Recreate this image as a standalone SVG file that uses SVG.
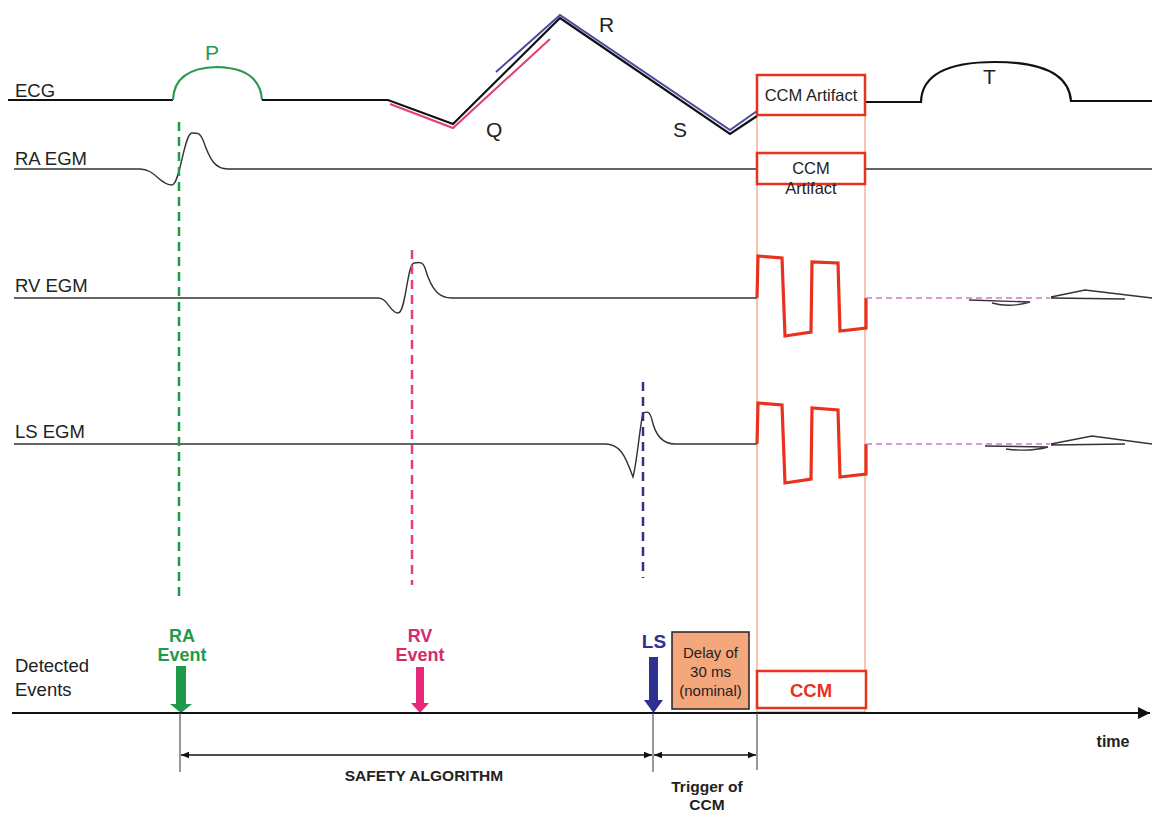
<svg xmlns="http://www.w3.org/2000/svg" width="1152" height="815" viewBox="0 0 1152 815">
<defs>
<style>
.lbl{font-family:"Liberation Sans",Arial,sans-serif;font-size:18.5px;fill:#222}
.b{font-weight:bold}
.wv{font-size:21px}
.sig{fill:none;stroke:#333;stroke-width:1.4}
.ecg{fill:none;stroke:#111;stroke-width:2.2}
.sq{fill:none;stroke:#e8321e;stroke-width:3.2;stroke-linejoin:miter}
.box{fill:#fff;stroke:#e8321e;stroke-width:2.5}
.dpk{fill:none;stroke:#c97bc9;stroke-width:1.5;stroke-dasharray:6 4}
.ax{stroke:#111;stroke-width:2}
.thin{stroke:#555;stroke-width:1.2}
</style>
<marker id="ah" viewBox="0 0 10 10" refX="10" refY="5" markerWidth="8" markerHeight="8" orient="auto-start-reverse" markerUnits="userSpaceOnUse"><path d="M0,1 L10,5 L0,9 Z" fill="#111"/></marker>
<marker id="axh" viewBox="0 0 10 10" refX="10" refY="5" markerWidth="12" markerHeight="12" orient="auto" markerUnits="userSpaceOnUse"><path d="M0,0 L10,5 L0,10 Z" fill="#111"/></marker>
</defs>
<rect width="1152" height="815" fill="#fff"/>

<!-- CCM window frame -->
<rect x="757" y="75" width="108" height="637" fill="none" stroke="#f0a080" stroke-width="1.2"/>

<g id="ecg">
<text class="lbl" x="15" y="97">ECG</text>
<path class="ecg" d="M8,100 L173,100"/>
<path d="M173,100 Q174,68 217,67 Q260,68 262,100" fill="none" stroke="#2a9a50" stroke-width="2.2"/>
<path class="ecg" d="M262,100 L388,100 L453,124 L560,18 L730,134 L757,116"/>
<path d="M390,104 L453,128 L550,39" fill="none" stroke="#e0406a" stroke-width="2"/>
<path d="M496,72 L560,15 L730,130 L757,111" fill="none" stroke="#4a4aa0" stroke-width="2"/>
<path class="ecg" d="M862,102 L921,102 Q922,62 995,62 Q1068,62 1071,101 L1152,101"/>
<text class="lbl wv" x="205" y="60" style="fill:#2a9a50">P</text>
<text class="lbl wv" x="599" y="32">R</text>
<text class="lbl wv" x="486" y="137">Q</text>
<text class="lbl wv" x="673" y="137">S</text>
<text class="lbl wv" x="983" y="84">T</text>
</g>

<g id="ra-egm">
<text class="lbl" x="15" y="165">RA EGM</text>
<path class="sig" d="M14,169 L140,169 C155,169 160,185 172,185 C180,185 184,133 192,133 C200,133 200,134 203,140 C210,160 215,169 228,169 L757,169"/>
<path class="sig" d="M865,169 L1152,169"/>
</g>

<g id="rv-egm">
<text class="lbl" x="15" y="292">RV EGM</text>
<path class="sig" d="M14,298 L378,298 C388,298 390,313 398,313 C406,313 407,264 414,263 C420,262 423,262 425,268 C432,292 440,298 452,298 L757,298"/>
<path class="sq" d="M757,298 L758,256 L782,258 L785,336 L811,332 L812,262 L838,263 L840,331 L866,328 L866,298"/>
<path class="dpk" d="M866,298 L1050,298"/>
<path class="sig" d="M969,300 L1030,302 Q1010,308 992,303"/>
<path class="sig" d="M1051,297 L1085,290 L1152,298 M1051,298 L1125,299"/>
</g>

<g id="ls-egm">
<text class="lbl" x="15" y="438">LS EGM</text>
<path class="sig" d="M14,444 L605,444 C620,444 625,455 633,477 C637,462 640,425 643,413 C648,411 650,412 652,420 C656,438 664,444 675,444 L757,444"/>
<path class="sq" d="M757,444 L758,403 L782,405 L785,483 L811,479 L812,408 L838,410 L840,477 L866,474 L866,444"/>
<path class="dpk" d="M866,444 L1050,444"/>
<path class="sig" d="M985,446 L1048,447 Q1030,452 1006,449"/>
<path class="sig" d="M1051,444 L1092,436 L1152,444 M1051,445 L1125,444"/>
</g>

<g id="artifact1">
<rect class="box" x="757" y="75" width="108" height="40"/>
<text class="lbl" x="811" y="101" text-anchor="middle" style="font-size:16.5px">CCM Artifact</text>
</g>
<g id="artifact2">
<rect class="box" x="757" y="153" width="108" height="31"/>
<text class="lbl" x="811" y="174" text-anchor="middle" style="font-size:16.5px">CCM</text>
<text class="lbl" x="811" y="194" text-anchor="middle" style="font-size:16.5px">Artifact</text>
</g>

<g id="event-lines">
<line x1="179" y1="122" x2="179" y2="600" stroke="#1f9a4a" stroke-width="2.5" stroke-dasharray="9 6"/>
<line x1="412" y1="250" x2="412" y2="585" stroke="#e84070" stroke-width="2.5" stroke-dasharray="9 6"/>
<line x1="643" y1="382" x2="643" y2="578" stroke="#2e3192" stroke-width="2.5" stroke-dasharray="9 6"/>
</g>

<g id="detected">
<text class="lbl" x="15" y="672">Detected</text>
<text class="lbl" x="15" y="696">Events</text>
</g>

<g id="ra-event">
<text class="lbl b" x="182" y="642" text-anchor="middle" style="fill:#1f9a4a;font-size:18px">RA</text>
<text class="lbl b" x="182" y="661" text-anchor="middle" style="fill:#1f9a4a;font-size:18px">Event</text>
<path d="M176,666 L186,666 L186,704 L192,704 L181,713 L170,704 L176,704 Z" fill="#1f9a4a"/>
</g>
<g id="rv-event">
<text class="lbl b" x="420" y="642" text-anchor="middle" style="fill:#d42a6e;font-size:18px">RV</text>
<text class="lbl b" x="420" y="661" text-anchor="middle" style="fill:#d42a6e;font-size:18px">Event</text>
<path d="M416,667 L424,667 L424,703 L429,703 L420,713 L411,703 L416,703 Z" fill="#e8287a"/>
</g>
<g id="ls-event">
<text class="lbl b" x="654" y="648" text-anchor="middle" style="fill:#2e3192;font-size:19px">LS</text>
<path d="M649,657 L658,657 L658,700 L663,700 L653.5,713 L644,700 L649,700 Z" fill="#2e3192"/>
</g>

<g id="delay">
<rect x="672" y="632" width="77" height="77" fill="#f5a77c" stroke="#222" stroke-width="1.5"/>
<text class="lbl" x="710.5" y="658" text-anchor="middle" style="font-size:15px">Delay of</text>
<text class="lbl" x="710.5" y="677" text-anchor="middle" style="font-size:15px">30 ms</text>
<text class="lbl" x="710.5" y="696" text-anchor="middle" style="font-size:15px">(nominal)</text>
</g>

<g id="ccm">
<rect class="box" x="757" y="671" width="109" height="37"/>
<text class="lbl b" x="811" y="697" text-anchor="middle" style="fill:#e8321e;font-size:18.5px">CCM</text>
</g>

<g id="connectors">
<line class="ax" x1="12" y1="713" x2="1150" y2="713" marker-end="url(#axh)"/>
<line class="thin" x1="180" y1="713" x2="180" y2="772"/>
<line class="thin" x1="653" y1="713" x2="653" y2="772"/>
<line class="thin" x1="757" y1="713" x2="757" y2="770"/>
<line x1="181" y1="755" x2="652" y2="755" stroke="#111" stroke-width="1.5" marker-start="url(#ah)" marker-end="url(#ah)"/>
<line x1="654" y1="755" x2="756" y2="755" stroke="#111" stroke-width="1.5" marker-start="url(#ah)" marker-end="url(#ah)"/>
</g>

<g id="labels">
<text class="lbl b" x="424" y="781" text-anchor="middle" style="font-size:15.5px">SAFETY ALGORITHM</text>
<text class="lbl b" x="707" y="792" text-anchor="middle" style="font-size:15.5px">Trigger of</text>
<text class="lbl b" x="707" y="810" text-anchor="middle" style="font-size:15.5px">CCM</text>
<text class="lbl b" x="1113" y="747" text-anchor="middle" style="font-size:16px">time</text>
</g>
</svg>
